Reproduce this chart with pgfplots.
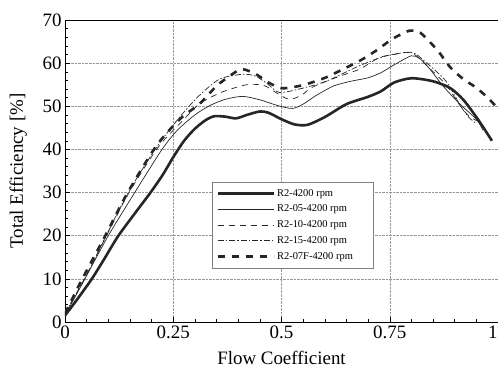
\documentclass[border=0pt]{standalone}
\usepackage{pgfplots}
\pgfplotsset{compat=1.18}
\usepackage{fontspec}
\setmainfont{Liberation Serif}
\usetikzlibrary{calc}
\begin{document}
\begin{tikzpicture}
\begin{axis}[
  scale only axis, width=433bp, height=302bp,
  xmin=0, xmax=1, ymin=0, ymax=70,
  xtick={0,0.25,0.5,0.75,1}, xticklabels={0,0.25,0.5,0.75,\llap{1\hspace*{0.5bp}}},
  ytick={0,10,20,30,40,50,60,70},
  minor x tick num=4, minor y tick num=4,
  tick align=inside, tick pos=left,
  major tick length=5bp, minor tick length=3bp,
  grid=major, grid style={densely dotted, gray!80, line width=0.5bp},
  axis line style={black, line width=0.7bp},
  tick style={black, line width=0.5bp},
  ticklabel style={font=\fontsize{19}{22}\selectfont},
  /pgf/number format/assume math mode=true,
  xlabel={Flow Coefficient}, ylabel={Total Efficiency [\%]},
  label style={font=\fontsize{19}{22}\selectfont},
  xlabel style={at={(axis description cs:0.5,-0.118)}, anchor=center},
  ylabel style={at={(axis description cs:-0.108,0.5)}, anchor=center},
  legend style={at={(rel axis cs:0.34,0.464)}, anchor=north west, draw=gray, line width=0.5bp,
    font=\fontsize{10.5}{12}\selectfont, row sep=3.4bp, inner xsep=4bp, inner ysep=5bp},
  legend cell align=left,
  legend image code/.code={\draw[#1] (0bp,0bp) -- (56bp,0bp);},
  every axis plot/.append style={black!85, smooth, tension=0.45},
]
\addplot[line width=2.6bp] coordinates {
(0,1.5)(0.03,5.5)(0.062,10)(0.09,14.5)(0.122,19.8)(0.16,25)(0.196,29.8)(0.225,34)(0.25,38.2)(0.275,42)(0.3,44.8)(0.325,46.8)(0.345,47.7)(0.37,47.6)(0.395,47.2)(0.42,48)(0.45,48.8)(0.47,48.5)(0.5,47)(0.53,45.8)(0.56,45.7)(0.6,47.5)(0.65,50.5)(0.7,52.2)(0.73,53.5)(0.76,55.5)(0.8,56.5)(0.85,55.8)(0.89,54.2)(0.92,51.5)(0.95,47.5)(0.97,44.5)(0.986,42)};
\addlegendentry{R2-4200 rpm}
\addplot[line width=0.7bp] coordinates {
(0,1.5)(0.046,10)(0.1,20)(0.161,30)(0.224,40)(0.26,44.5)(0.3,48)(0.335,50.2)(0.37,51.6)(0.41,52.3)(0.45,51.5)(0.49,50.2)(0.525,49.5)(0.55,50.5)(0.58,52.5)(0.62,54.7)(0.66,55.8)(0.7,56.6)(0.73,57.8)(0.76,59.6)(0.8,61.7)(0.82,61)(0.843,58.6)(0.873,54.7)(0.912,50.5)(0.95,47)(0.965,44.5)};
\addlegendentry{R2-05-4200 rpm}
\addplot[line width=0.7bp, dash pattern=on 6bp off 5bp] coordinates {
(0,2)(0.045,10)(0.095,19.8)(0.148,30)(0.215,40.5)(0.27,46.5)(0.31,50.5)(0.36,53.2)(0.42,55)(0.46,54.8)(0.49,53)(0.518,51.6)(0.545,52.5)(0.571,54.4)(0.627,56.7)(0.68,58.6)(0.726,61.3)(0.76,62)(0.788,62.5)(0.81,61.8)(0.84,59)(0.88,55)(0.91,50.5)(0.933,47.7)(0.955,46.5)};
\addlegendentry{R2-10-4200 rpm}
\addplot[line width=0.7bp, dash pattern=on 6bp off 2bp on 1.5bp off 2bp] coordinates {
(0,2)(0.045,10)(0.094,19.8)(0.146,30)(0.212,40.6)(0.265,47.5)(0.31,52.5)(0.357,56.3)(0.408,57.4)(0.44,57)(0.47,55)(0.495,53.2)(0.541,54)(0.603,55.8)(0.68,59.4)(0.742,61.7)(0.8,62.5)(0.83,60.5)(0.88,55.8)(0.914,50)(0.933,47.4)(0.95,46)};
\addlegendentry{R2-15-4200 rpm}
\addplot[line width=2.6bp, dash pattern=on 7bp off 7bp] coordinates {
(0,2)(0.04,10)(0.092,19.8)(0.142,29.5)(0.21,40.7)(0.265,47)(0.31,50.5)(0.35,54.7)(0.38,57)(0.408,58.6)(0.44,57.5)(0.47,55.5)(0.5,54.2)(0.53,54.5)(0.56,55.2)(0.603,56.7)(0.64,58.5)(0.68,60.5)(0.72,63)(0.756,65.6)(0.795,67.5)(0.82,67.1)(0.86,63)(0.89,59)(0.92,56.3)(0.95,54.3)(0.976,52)(1.0,49.5)};
\addlegendentry{R2-07F-4200 rpm\hspace*{14bp}}
\end{axis}
\pgfresetboundingbox
\path[use as bounding box] ($(current axis.south west)+(-65bp,-48bp)$) rectangle ($(current axis.north east)+(0bp,20bp)$);
\end{tikzpicture}
\end{document}
